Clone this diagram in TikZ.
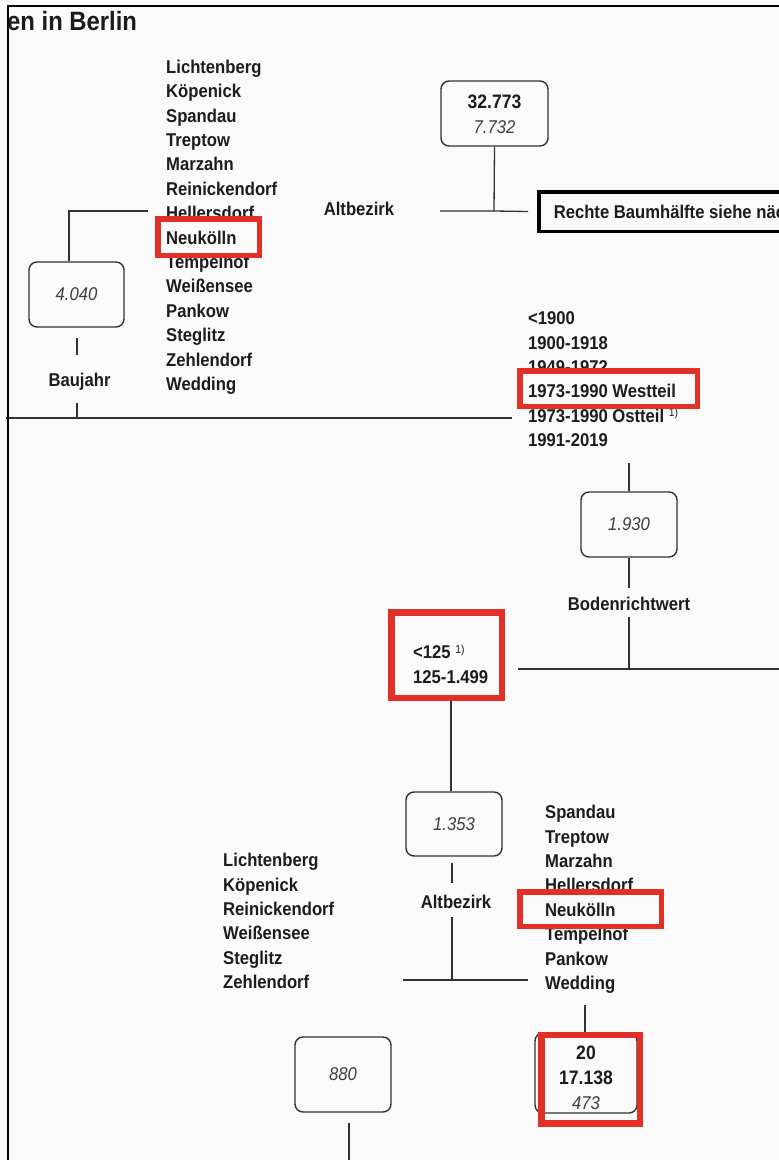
\documentclass[tikz,border=0pt]{standalone}
\usepackage{fontspec}
\setmainfont{Liberation Sans}[FakeStretch=0.9]
\definecolor{ink}{RGB}{28,28,28}
\definecolor{gr}{RGB}{62,62,62}
\definecolor{linec}{RGB}{50,50,50}
\definecolor{hlred}{RGB}{226,48,38}
\definecolor{bg}{RGB}{250,250,250}
\newcommand\supx[1]{\raisebox{5.5pt}{\fontsize{11.5}{11.5}\selectfont\mdseries #1}}
\tikzset{
  lbl/.style={font=\bfseries\fontsize{18.5}{24.4}\selectfont, text=ink, inner sep=0pt},
  item/.style={lbl, anchor=base west},
  box/.style={draw=linec, line width=1.4pt, rounded corners=8pt, inner sep=0pt,
    align=center, font=\fontsize{18.5}{25}\selectfont, text=ink},
  conn/.style={draw=linec, line width=1.3pt},
  hl/.style={draw=hlred, line width=5.5pt},
  hlthick/.style={draw=hlred, line width=6.5pt},
}
\newcommand\bnum[1]{{\bfseries\fontsize{19.5}{25}\selectfont #1}}
\newcommand\inum[1]{{\itshape\color{gr}#1}}
\begin{document}
\begin{tikzpicture}[x=1pt,y=-1pt]
\useasboundingbox (0,0) rectangle (779,1160);
\clip (0,0) rectangle (779,1160);
\fill[bg] (0,0) rectangle (779,1160);

% title (cut at the left frame)
\begin{scope}
  \clip (8,0) rectangle (779,45);
  \node[lbl, font=\bfseries\fontsize{26.5}{30}\selectfont, anchor=base west] (title) at (7,30.5) {en in Berlin};
\end{scope}

% ---------- root ----------
\node[box, minimum width=107pt, minimum height=65pt] (root) at (494.5,113.5)
  {\rule{0pt}{16pt}\bnum{32.773}\\\inum{7.732}};
\node[lbl] (alt1) at (359,209) {Altbezirk};
\node[draw=black, line width=3.5pt, anchor=west, minimum height=39.5pt, inner xsep=15pt,
  inner ysep=0pt, font=\bfseries\fontsize{18.5}{24.4}\selectfont, text=ink] (rbox) at (537,211.5)
  {Rechte Baumhälfte siehe nächste Seite};
\coordinate (j0) at (494,211);
\coordinate (j0l) at (440,211);
\draw[conn] (root.south) -- (j0);
\draw[conn] (j0l) -- (j0) -- ([xshift=-9pt]rbox.west);

% ---------- list 1 ----------
\foreach \t [count=\i] in {Lichtenberg,Köpenick,Spandau,Treptow,Marzahn,Reinickendorf,
  Hellersdorf,Neukölln,Tempelhof,Weißensee,Pankow,Steglitz,Zehlendorf,Wedding}
  \node[item] (la\i) at (166,{73.3+24.4*(\i-1)}) {\t};
\draw[hl] (157.75,218.75) rectangle (259.25,255.25);

\node[box, minimum width=95pt, minimum height=65pt] (b4) at (76.5,294.5) {\inum{4.040}};
\coordinate (l1c) at (148,211);
\draw[conn] (l1c) -| ([xshift=-7.5pt]b4.north);
\node[lbl] (baujahr) at (79.5,381.8) {Baujahr};
\coordinate (j1) at (77,418);
\draw[conn, shorten <=10pt, shorten >=18pt] (j1 |- b4.south) -- (j1 |- baujahr.north);
\draw[conn, shorten <=12pt] (j1 |- baujahr.south) -- (j1);
\coordinate (j1l) at (6,418);
\coordinate (j1r) at (512,418);
\draw[conn] (j1l) -- (j1r);

% ---------- list 2 ----------
\foreach \t [count=\i] in {<1900,1900-1918,1949-1972,1973-1990 Westteil,
  {1973-1990 Ostteil \supx{1)}},1991-2019}
  \node[item] (lb\i) at (528,{324.6+24.4*(\i-1)}) {\t};
\fill[bg] (519.75,370.75) rectangle (697.25,406.25);
\node[item] (west) at (528,397.8) {1973-1990 Westteil};
\draw[hl] (519.75,370.75) rectangle (697.25,406.25);

\node[box, minimum width=96pt, minimum height=65pt] (b19) at (629,524.5) {\inum{1.930}};
\coordinate (l2out) at (629,463);
\draw[conn] (l2out) -- (b19.north);
\node[lbl] (bod) at (629,604) {Bodenrichtwert};
\draw[conn, shorten >=9pt] (b19.south) -- (bod.north);
\coordinate (j2) at (629,669);
\draw[conn, shorten <=6pt] (bod.south) -- (j2);
\coordinate (j2l) at (518,669);
\coordinate (j2r) at (785,669);
\draw[conn] (j2l) -- (j2r);

% ---------- left child of Bodenrichtwert ----------
\node[lbl, align=left, anchor=west] (bw) at (413,664) {<125 \supx{1)}\\125-1.499};
\draw[hlthick] (391.25,612.25) rectangle (501.75,697.75);

\node[box, minimum width=96pt, minimum height=64pt] (b13) at (454,824) {\inum{1.353}};
\coordinate (r3b) at (451,701);
\draw[conn] (r3b) -- (r3b |- b13.north);
\node[lbl] (alt2) at (456,902) {Altbezirk};
\coordinate (j3) at (452,980);
\draw[conn, shorten <=6pt, shorten >=12pt] (j3 |- b13.south) -- (j3 |- alt2.north);
\draw[conn, shorten <=8pt] (j3 |- alt2.south) -- (j3);
\coordinate (j3l) at (403,980);
\coordinate (j3r) at (528,980);
\draw[conn] (j3l) -- (j3r);

% ---------- list 3 ----------
\foreach \t [count=\i] in {Lichtenberg,Köpenick,Reinickendorf,Weißensee,Steglitz,Zehlendorf}
  \node[item] (lc\i) at (223,{866.6+24.4*(\i-1)}) {\t};

% ---------- list 4 ----------
\foreach \t [count=\i] in {Spandau,Treptow,Marzahn,Hellersdorf,Neukölln,Tempelhof,Pankow,Wedding}
  \node[item] (ld\i) at (545,{818.6+24.4*(\i-1)}) {\t};
\draw[hl] (519.75,891.75) rectangle (661.25,926.25);

% ---------- leaf 20 ----------
\node[box, minimum width=102pt, minimum height=80pt] (b20) at (586,1073)
  {\rule{0pt}{23pt}\bnum{20}\\\bnum{17.138}\\\inum{473}};
\coordinate (l4out) at (585,1005);
\draw[conn] (l4out) -- (l4out |- b20.north);
\draw[hlthick] (541.5,1035) rectangle (640,1123.5);

% ---------- node 880 ----------
\node[box, minimum width=96pt, minimum height=75pt] (b880) at (343,1074.5) {\inum{880}};
\coordinate (b880d) at (349,1170);
\draw[conn, shorten <=10pt] (b880d |- b880.south) -- (b880d);

% frame
\draw[black, line width=2.6pt] (8,1165) -- (8,6) -- (785,6);
\end{tikzpicture}
\end{document}
